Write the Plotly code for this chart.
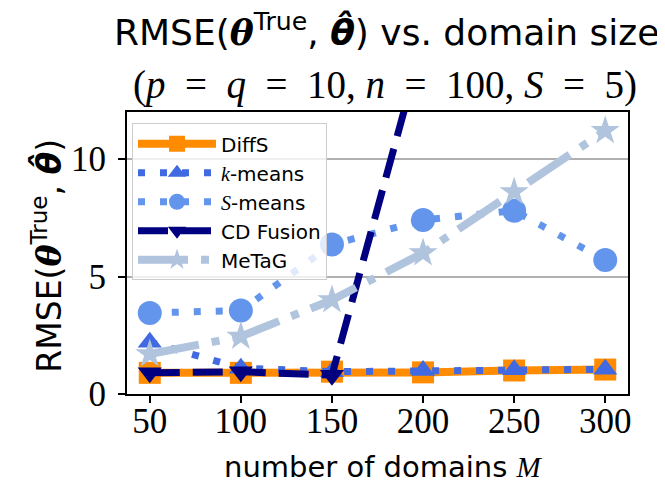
import plotly.graph_objects as go

M = [50, 100, 150, 200, 250, 300]
diffs = [0.9, 0.9, 0.95, 0.92, 1.0, 1.04]
kmeans = [2.2, 1.1, 0.95, 1.0, 1.03, 1.05]
smeans = [3.45, 3.55, 6.36, 7.4, 7.8, 5.7]
cdfusion = [0.9, 0.95, 0.8, 15.0]
metag = [1.7, 2.45, 4.0, 6.0, 8.6, 11.2]
xticks = [50, 100, 150, 200, 250, 300]
yticks = [0, 5, 10]

SANS = "DejaVu Sans"
SERIF = "Liberation Serif"
th = "<span style='font-family:DejaVu Serif'><b><i>θ</i></b></span>"
thhat = "<span style='font-family:DejaVu Sans'><b><i>θ\u0302</i></b></span>"
en = "\u2002"

fig = go.Figure()
fig.add_trace(go.Scatter(x=M, y=diffs, name="DiffS", mode="lines+markers",
                         line=dict(color="#FF8C00", width=8),
                         marker=dict(symbol="square", size=22, color="#FF8C00")))
fig.add_trace(go.Scatter(x=M, y=kmeans, name="<span style='font-family:Liberation Serif'><i>k</i></span>-means",
                         mode="lines+markers",
                         line=dict(color="#4169E1", width=7, dash="7px,15px"),
                         marker=dict(symbol="triangle-up", size=21, color="#4169E1")))
fig.add_trace(go.Scatter(x=M, y=smeans, name="<span style='font-family:Liberation Serif'><i>S</i></span>-means",
                         mode="lines+markers",
                         line=dict(color="#6495ED", width=7, dash="7px,15px"),
                         marker=dict(symbol="circle", size=24, color="#6495ED")))
fig.add_trace(go.Scatter(x=M[:len(cdfusion)], y=cdfusion, name="CD Fusion", mode="lines+markers",
                         line=dict(color="#000080", width=7, dash="30px,13px"),
                         marker=dict(symbol="triangle-down", size=21, color="#000080")))
fig.add_trace(go.Scatter(x=M, y=metag, name="MeTaG", mode="lines+markers",
                         line=dict(color="#B0C4DE", width=8, dash="50px,13px,8px,13px"),
                         marker=dict(symbol="star", size=22, color="#B0C4DE")))

line2 = ("(<i>p</i>" + en + "=" + en + "<i>q</i>" + en + "=" + en + "10, <i>n</i>" + en + "=" + en +
         "100, <i>S</i>" + en + "=" + en + "5)")

# page body has an 8px margin, so the figure is 8px smaller than the window
fig.update_layout(
    width=657, height=477,
    margin=dict(l=119, r=37, t=104, b=91, autoexpand=False),
    paper_bgcolor="white", plot_bgcolor="white",
    showlegend=True,
    legend=dict(x=0.01, y=0.96, xanchor="left", yanchor="top",
                bgcolor="rgba(255,255,255,0.8)", bordercolor="#cccccc", borderwidth=1,
                itemwidth=78,
                font=dict(family=SANS, size=20, color="black"), tracegroupgap=0),
    annotations=[
        dict(text="RMSE(" + th + "<sup>True</sup>, " + thhat + ") vs. domain size",
             xref="paper", yref="paper", x=0.517, y=1.29, xanchor="center", yanchor="middle",
             showarrow=False, font=dict(family=SANS, size=36, color="black")),
        dict(text=line2,
             xref="paper", yref="paper", x=0.514, y=1.096, xanchor="center", yanchor="middle",
             showarrow=False, font=dict(family=SERIF, size=39, color="black")),
        dict(text="number of domains <span style='font-family:Liberation Serif'><i>M</i></span>",
             xref="paper", yref="paper", x=0.511, y=-0.259, xanchor="center", yanchor="middle",
             showarrow=False, font=dict(family=SANS, size=29, color="black")),
        dict(text="RMSE(" + th + "<sup>True</sup>, " + thhat + ")", textangle=-90,
             xref="paper", yref="paper", x=-0.158, y=0.49, xanchor="center", yanchor="middle",
             showarrow=False, font=dict(family=SANS, size=33, color="black")),
    ],
)
fig.update_xaxes(range=[37.5, 312.5], tickvals=xticks, ticktext=[str(v) for v in xticks],
                 ticks="outside", ticklen=7, tickwidth=2, tickcolor="black", automargin=False,
                 showline=True, linecolor="black", linewidth=2, mirror=True,
                 showgrid=False, zeroline=False, ticklabelstandoff=-12,
                 tickfont=dict(family=SERIF, size=35, color="black"))
fig.update_yaxes(range=[0, 12], tickvals=yticks, ticktext=[str(v) for v in yticks],
                 ticks="outside", ticklen=7, tickwidth=2, tickcolor="black", automargin=False,
                 showline=True, linecolor="black", linewidth=2, mirror=True,
                 showgrid=True, gridcolor="#b0b0b0", gridwidth=2, zeroline=False,
                 ticklabelstandoff=5,
                 tickfont=dict(family=SERIF, size=35, color="black"))

fig.write_html("out.html")
